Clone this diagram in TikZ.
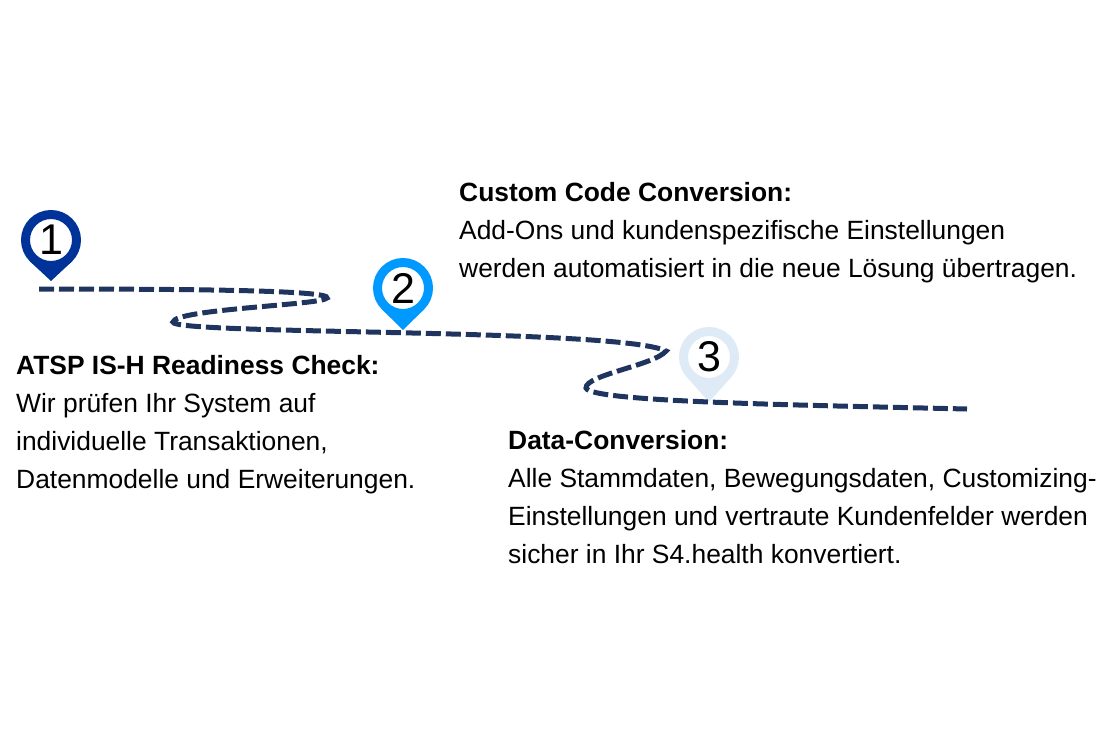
\documentclass[tikz,border=0pt]{standalone}
\usepackage{fontspec}
\setmainfont{Liberation Sans}
\usetikzlibrary{calc}
\definecolor{pathblue}{HTML}{1F3560}
\definecolor{pinone}{HTML}{003399}
\definecolor{pintwo}{HTML}{0099FF}
\definecolor{pinthree}{HTML}{DEEAF6}
\newcommand{\pintip}[3]{\fill[#2] ($(#1.center)+(-45:30pt)$) -- ($(#1.center)+(0,-#3pt)$) -- ($(#1.center)+(-135:30pt)$) -- cycle;}
\begin{document}
\begin{tikzpicture}[%
    x=1pt,y=-1pt,
    pinhead/.style={circle,draw,fill=white,line width=9pt,minimum size=51pt,inner sep=0pt,font=\fontsize{43}{43}\selectfont},
    textbox/.style={anchor=north west,align=left,inner sep=0pt,font=\fontsize{26.4}{38}\selectfont},
    road/.style={line width=5pt,draw=pathblue,dash pattern=on 15pt off 5pt}
  ]
		\useasboundingbox (0,0) rectangle (1110,740);

		\node at (51,240) [pinhead,draw=pinone] (p1) {1};
		\node at (403,288) [pinhead,draw=pintwo] (p2) {2};
		\node at (709,357) [pinhead,draw=pinthree] (p3) {3};
		\pintip{p1}{pinone}{41}
		\pintip{p2}{pintwo}{42}
		\pintip{p3}{pinthree}{45}

		\coordinate (s) at (39,289);
		\coordinate (t1) at (327,298);
		\coordinate (t2) at (173,322);
		\coordinate (t3) at (666,351);
		\coordinate (t4) at (586,388);
		\coordinate (e) at (967,409);

		\draw[road] (s) .. controls (180,289) and (332,290) .. (t1)
			.. controls (322,305) and (175,309) .. (t2)
			.. controls (172,335) and (620,328) .. (t3)
			.. controls (655,365) and (585,375) .. (t4)
			.. controls (590,402) and (800,405) .. (e);

		\node at (16,355) [textbox] (c1) {\textbf{ATSP IS-H Readiness Check:}\\Wir prüfen Ihr System auf\\individuelle Transaktionen,\\Datenmodelle und Erweiterungen.};
		\node at (459,182) [textbox] (c2) {\textbf{Custom Code Conversion:}\\Add-Ons und kundenspezifische Einstellungen\\werden automatisiert in die neue Lösung übertragen.};
		\node at (508,430) [textbox] (c3) {\textbf{Data-Conversion:}\\Alle Stammdaten, Bewegungsdaten, Customizing-\\Einstellungen und vertraute Kundenfelder werden\\sicher in Ihr S4.health konvertiert.};
	\end{tikzpicture}
\end{document}
